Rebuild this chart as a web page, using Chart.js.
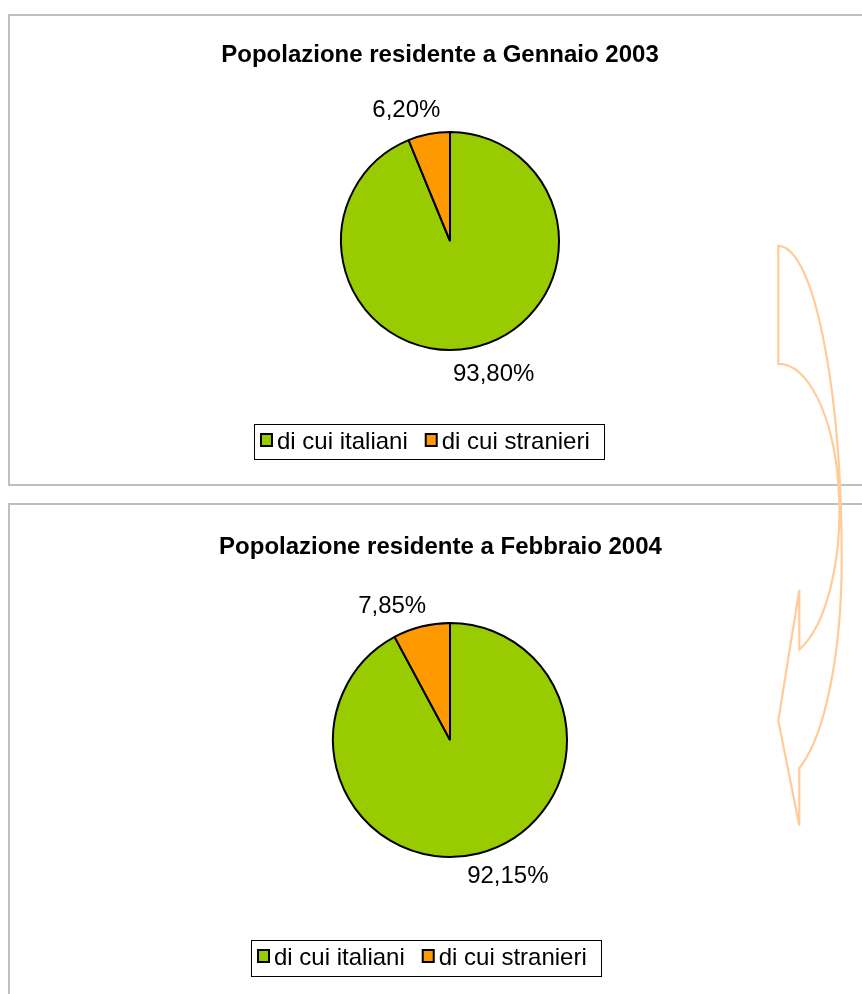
<!DOCTYPE html>
<html>
<head>
<meta charset="utf-8">
<script src="https://cdn.jsdelivr.net/npm/chart.js@4.4.0/dist/chart.umd.min.js"></script>
<style>
html, body { margin: 0; padding: 0; overflow: hidden; }
body { width: 862px; height: 994px; background: #fff; position: relative; }
.box { position: absolute; left: 8px; width: 900px; border: 2px solid #bfbfbf; border-right: none; background: #fff; }
#box1 { top: 14px; height: 468px; }
#box2 { top: 503px; height: 600px; }
canvas { position: absolute; left: 0; }
#c1 { top: 0; }
#c2 { top: 495px; }
svg { position: absolute; left: 0; top: 0; }
</style>
</head>
<body>
<div class="box" id="box1"></div>
<div class="box" id="box2"></div>
<canvas id="c1" width="862" height="495"></canvas>
<canvas id="c2" width="862" height="499"></canvas>
<!-- freccia curva decorativa -->
<svg width="862" height="994">
  <path d="M 778.3 245.8 A 63.4 314.2 0 0 1 841.7 560 A 63.4 220.5 0 0 1 799.3 768 L 799.3 825.6 L 778.3 720.7 L 799.3 590 L 799.3 649.5 A 61 147.3 0 0 0 778.3 363.8 Z"
        fill="none" stroke="#ffcc99" stroke-width="2.2"/>
</svg>
<script>
// dati
var categorie = ['di cui italiani', 'di cui stranieri'];
var titoli = ['Popolazione residente a Gennaio 2003', 'Popolazione residente a Febbraio 2004'];
var valori2003 = [93.80, 6.20];
var valori2004 = [92.15, 7.85];
var colori = ['#99CC00', '#FF9900'];

var FONT = '"Liberation Sans", Arial, sans-serif';

function drawText(ctx, text, x, y, align) {
	ctx.textAlign = align;
	ctx.textBaseline = 'alphabetic';
	ctx.fillText(text, x, y);
}

// titolo, etichette percentuali e legenda in stile Excel
var excelPie = {
	id: 'excelPie',
	afterDatasetsDraw: function(chart, args, opt) {
		var ctx = chart.ctx;
		ctx.save();
		ctx.fillStyle = '#000';

		//titolo
		ctx.font = 'bold 24px ' + FONT;
		drawText(ctx, opt.title, opt.titleX, opt.titleY, 'center');

		//etichette
		var meta = chart.getDatasetMeta(0);
		var vals = chart.data.datasets[0].data;
		var iMin = vals.indexOf(Math.min.apply(null, vals));
		var small = meta.data[iMin];
		var ang = small.endAngle - 0.82 * (small.endAngle - small.startAngle);
		ctx.font = '24px ' + FONT;
		meta.data.forEach(function(arc, i) {
			var t = i === iMin ? ang : ang + Math.PI;
			var d = arc.outerRadius + 30;
			var x = arc.x + d * Math.cos(t);
			var y = arc.y + d * Math.sin(t);
			var txt = vals[i].toFixed(2).replace('.', ',') + '%';
			drawText(ctx, txt, x, y + 8, 'center');
		});

		//legenda
		var labels = chart.data.labels;
		var widths = labels.map(function(l) { return ctx.measureText(l).width; });
		var content = 0;
		widths.forEach(function(w, i) { content += 17 + w + (i ? 17 : 0); });
		var bw = Math.round(content + 6 + 14);
		var left = Math.round(opt.legendX - bw / 2);
		var top = opt.legendY;
		ctx.lineWidth = 1;
		ctx.strokeStyle = '#000';
		ctx.strokeRect(left + 0.5, top + 0.5, bw, opt.legendH);
		var x = left + 6;
		labels.forEach(function(l, i) {
			ctx.fillStyle = chart.data.datasets[0].backgroundColor[i];
			ctx.fillRect(x + 1, top + 10, 11, 12);
			ctx.lineWidth = 2;
			ctx.strokeRect(x + 1, top + 10, 11, 12);
			ctx.fillStyle = '#000';
			drawText(ctx, l, x + 17, top + 25, 'left');
			x += 17 + widths[i] + 17;
		});
		ctx.restore();
	}
};

function creaTorta(id, valori, titolo, raggio, padding, pos) {
	return new Chart(document.getElementById(id), {
		type: 'pie',
		data: {
			labels: categorie,
			datasets: [{
				data: valori,
				backgroundColor: colori,
				borderColor: '#000',
				borderWidth: 2
			}]
		},
		options: {
			responsive: false,
			animation: false,
			radius: raggio,
			layout: { padding: padding },
			events: [],
			plugins: {
				legend: { display: false },
				title: { display: false },
				tooltip: { enabled: false },
				excelPie: {
					title: titolo,
					titleX: pos.titleX, titleY: pos.titleY,
					legendX: pos.legendX, legendY: pos.legendY, legendH: pos.legendH
				}
			}
		},
		plugins: [excelPie]
	});
}

creaTorta('c1', valori2003, titoli[0], 109,
	{ left: 138, right: 100, top: 100, bottom: 113 },
	{ titleX: 440, titleY: 62, legendX: 429, legendY: 424, legendH: 35 });

creaTorta('c2', valori2004, titoli[1], 117,
	{ left: 138, right: 100, top: 100, bottom: 109 },
	{ titleX: 440.5, titleY: 554 - 495, legendX: 425.5, legendY: 445, legendH: 36 });
</script>
</body>
</html>
